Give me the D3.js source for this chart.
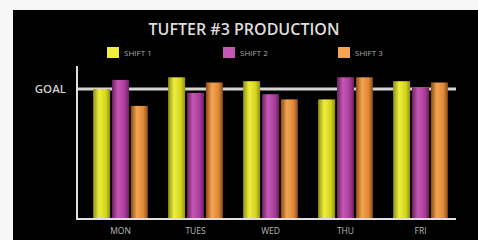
<!DOCTYPE html>
<html>
<head>
<meta charset="utf-8">
<script src="https://cdn.jsdelivr.net/npm/d3@7"></script>
<style>
  body { margin: 0; background: #f7f7f7; }
  svg { display: block; }
</style>
</head>
<body>
<div id="chart"></div>
<script>
// chart data
var days = ["MON", "TUES", "WED", "THU", "FRI"];
var shifts = ["SHIFT 1", "SHIFT 2", "SHIFT 3"];
var shift1 = [100, 109, 106, 92, 106];
var shift2 = [107, 97, 96, 109, 101];
var shift3 = [87, 105, 92, 109, 105];
var goal = 100;

var w = 478, h = 240;

var colors = [
    {id: "g1", edge: "#8f8f10", mid: "#eeee40", side: "#d4d41c"},
    {id: "g2", edge: "#6e1f62", mid: "#c458b4", side: "#a83c98"},
    {id: "g3", edge: "#8a4a14", mid: "#f4a452", side: "#dc8838"}
];

var svg = d3.select("#chart")
    .append("svg")
        .attr("width", w)
        .attr("height", h);

var defs = svg.append("defs");
colors.forEach(function(c){
    var grad = defs.append("linearGradient")
        .attr("id", c.id)
        .attr("x1", "0%").attr("x2", "100%")
        .attr("y1", "0%").attr("y2", "0%");
    grad.append("stop").attr("offset", "0%").attr("stop-color", c.edge);
    grad.append("stop").attr("offset", "35%").attr("stop-color", c.mid);
    grad.append("stop").attr("offset", "75%").attr("stop-color", c.side);
    grad.append("stop").attr("offset", "100%").attr("stop-color", c.edge);
});

// black panel
svg.append("rect")
    .attr("x", 13)
    .attr("y", 10)
    .attr("width", w - 13)
    .attr("height", h - 10)
    .attr("fill", "#000");

var x = d3.scaleBand()
    .domain(days)
    .range([83, 458])
    .paddingInner(0.27)
    .paddingOuter(0.135);

var xs = d3.scaleBand()
    .domain(shifts)
    .range([0, x.bandwidth()])
    .paddingInner(0.1);

var y = d3.scaleLinear()
    .domain([0, goal])
    .range([219, 89]);

var data = days.map(function(d, i){
    return {day: d, values: [shift1[i], shift2[i], shift3[i]]};
});

// goal line (behind bars)
svg.append("line")
    .attr("x1", 77)
    .attr("x2", 456)
    .attr("y1", y(goal))
    .attr("y2", y(goal))
    .attr("stroke", "#d4d4d4")
    .attr("stroke-width", 3);

svg.append("text")
    .attr("x", 66)
    .attr("y", y(goal) + 4)
    .attr("text-anchor", "end")
    .style("font", "600 11.5px 'Open Sans', sans-serif")
    .style("fill", "#cfcfcf")
    .text("GOAL");

var group = svg.selectAll(".day")
    .data(data)
    .enter().append("g")
        .attr("class", "day")
        .attr("transform", function(d){ return "translate(" + x(d.day) + ",0)"; });

group.selectAll("rect")
    .data(function(d){ return d.values; })
    .enter().append("rect")
        .attr("x", function(d, i){ return xs(shifts[i]); })
        .attr("y", function(d){ return y(d); })
        .attr("width", xs.bandwidth())
        .attr("height", function(d){ return y(0) - y(d); })
        .attr("fill", function(d, i){ return "url(#" + colors[i].id + ")"; });

// axes lines
svg.append("line")
    .attr("x1", 77).attr("x2", 77)
    .attr("y1", 66).attr("y2", 220)
    .attr("stroke", "#e0e0e0")
    .attr("stroke-width", 2);

svg.append("line")
    .attr("x1", 76).attr("x2", 456)
    .attr("y1", 219).attr("y2", 219)
    .attr("stroke", "#e0e0e0")
    .attr("stroke-width", 2);

var xAxis = svg.append("g")
    .attr("transform", "translate(0,219)")
    .call(d3.axisBottom(x).tickSize(0).tickPadding(9));
xAxis.select(".domain").remove();
xAxis.selectAll("text")
    .style("font", "8.5px 'Open Sans', sans-serif")
    .style("fill", "#b8b8b8");

// title
svg.append("text")
    .attr("x", 244)
    .attr("y", 35)
    .attr("text-anchor", "middle")
    .style("font", "600 16px 'Open Sans', sans-serif")
    .style("fill", "#dedede")
    .text("TUFTER #3 PRODUCTION");

// legend
var legendX = [107, 223, 338];
var legend = svg.selectAll(".legend")
    .data(shifts)
    .enter().append("g")
        .attr("class", "legend")
        .attr("transform", function(d, i){ return "translate(" + legendX[i] + ",47)"; });

legend.append("rect")
    .attr("width", 12)
    .attr("height", 11)
    .attr("fill", function(d, i){ return colors[i].mid; });

legend.append("text")
    .attr("x", 17)
    .attr("y", 9)
    .style("font", "8px 'Open Sans', sans-serif")
    .style("fill", "#a8a8a8")
    .text(function(d){ return d; });
</script>
</body>
</html>
